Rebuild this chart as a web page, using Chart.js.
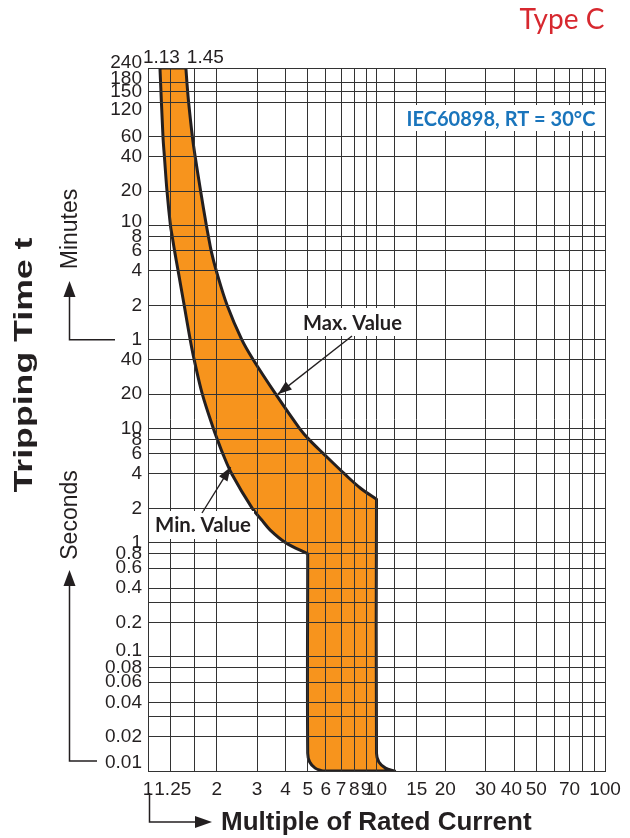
<!DOCTYPE html>
<html>
<head>
<meta charset="utf-8">
<script src="https://cdn.jsdelivr.net/npm/chart.js@4/dist/chart.umd.min.js"></script>
<style>
  html, body { margin: 0; padding: 0; background: #ffffff; }
  #wrap { width: 630px; height: 838px; position: relative; }
</style>
</head>
<body>
<div id="wrap"><canvas id="c" width="630" height="838"></canvas></div>
<script>
// ---------- data ----------
// x: multiple of rated current, y: tripping time in seconds
const xTickValues = [1, 1.25, 1.6, 2, 3, 4, 5, 6, 7, 8, 9, 10, 12, 15, 20, 30, 40, 50, 60, 70, 80, 90, 100];
const xTickLabels = ['1', '1.25', '', '2', '3', '4', '5', '6', '7', '8', '9', '10', '', '15', '20', '30', '40', '50', '', '70', '', '', '100'];

const yTickValues = [0.01, 0.02, 0.03, 0.04, 0.06, 0.08, 0.1, 0.2, 0.3, 0.4, 0.6, 0.8, 1, 2, 4, 6, 8, 10, 20, 40,
                     60, 120, 240, 360, 480, 600, 1200, 2400, 3600, 7200, 9000, 10800, 14400];
const yTickLabels = ['0.01', '0.02', '', '0.04', '0.06', '0.08', '0.1', '0.2', '', '0.4', '0.6', '0.8', '1', '2', '4', '6', '8', '10', '20', '40',
                     '1', '2', '4', '6', '8', '10', '20', '40', '60', '120', '150', '180', '240'];

// Max. value curve (upper limit), from 240 min down through the instantaneous zone
const maxCurrent = [1.465, 1.48, 1.506, 1.564, 1.609, 1.70, 1.801, 1.839, 1.89, 1.991, 2.22, 2.573, 2.888, 3.622, 4.611, 5.073, 5.87, 7.249, 8.515, 10, 10, 10.24, 10.95, 12];
const maxTime    = [14400, 10800, 7200, 3600, 2400, 1200, 600, 480, 360, 240, 120, 60, 40, 20, 10, 8, 6, 4, 3, 2.4, 0.0143, 0.012, 0.0106, 0.01];

// Min. value curve (lower limit)
const minCurrent = [1.128, 1.163, 1.18, 1.211, 1.254, 1.277, 1.307, 1.355, 1.44, 1.53, 1.593, 1.729, 1.932, 2.012, 2.126, 2.327, 2.86, 3.147, 3.427, 4.006, 5, 5, 5.10, 5.39, 5.81];
const minTime    = [14400, 3600, 2400, 1200, 600, 480, 360, 240, 120, 60, 40, 20, 10, 8, 6, 4, 2, 1.58, 1.29, 1, 0.8, 0.0143, 0.012, 0.0106, 0.01];

// arrow targets on the curves
const maxArrowPoint = { x: 3.70, y: 20 };
const minArrowPoint = { x: 2.30, y: 4.6 };

// ---------- build band outline (closed shape) ----------
// curve end points and the knee where a vertical drop starts are kept sharp
function isSharp(xs, i) {
  if (i === 0 || i === xs.length - 1) return true;
  return xs[i] === xs[i + 1] && xs[i - 1] !== xs[i];
}
const band = [];
function addPt(x, y, sharp) { band.push({ x: x, y: y }); if (sharp) band.push({ x: x, y: y }); }
maxCurrent.forEach((x, i) => addPt(x, maxTime[i], isSharp(maxCurrent, i)));
for (let i = minCurrent.length - 1; i >= 0; i--) addPt(minCurrent[i], minTime[i], isSharp(minCurrent, i));
band.push({ x: maxCurrent[0], y: maxTime[0] });

// small label placement tweaks (style only)
const yLabelNudge = { 14400: -5, 10800: -3, 7200: 7, 600: -4, 0.1: -6, 0.01: -8 };
const xLabelPad = { 1.25: ' %', 40: '% ' };

const INK = '#231f20';
const SANS = "'Liberation Sans', Arial, Helvetica, sans-serif";
const CAL = 'Lato, "Open Sans", sans-serif';
Chart.defaults.font.family = SANS;

function fitFont(ctx, text, weight, family, width) {
  ctx.font = weight + ' 100px ' + family;
  const w = ctx.measureText(text).width;
  return weight + ' ' + (100 * width / w).toFixed(2) + 'px ' + family;
}
function arrowHead(ctx, tx, ty, fx, fy, len, half) {
  const a = Math.atan2(ty - fy, tx - fx);
  ctx.beginPath();
  ctx.moveTo(tx, ty);
  ctx.lineTo(tx - len * Math.cos(a) + half * Math.sin(a), ty - len * Math.sin(a) - half * Math.cos(a));
  ctx.lineTo(tx - len * Math.cos(a) - half * Math.sin(a), ty - len * Math.sin(a) + half * Math.cos(a));
  ctx.closePath();
  ctx.fill();
}

const annotations = {
  id: 'annotations',
  afterDraw(chart) {
    const ctx = chart.ctx;
    const xs = chart.scales.x, ys = chart.scales.y;
    ctx.save();
    ctx.fillStyle = INK;
    ctx.strokeStyle = INK;

    // "Type C"
    ctx.fillStyle = '#d7282f';
    ctx.font = fitFont(ctx, 'Type C', 'normal', CAL, 85);
    ctx.textAlign = 'left'; ctx.textBaseline = 'alphabetic';
    ctx.fillText('Type C', 519.5, 28.5);

    // top labels 1.13 / 1.45
    ctx.fillStyle = INK;
    ctx.font = '19px ' + SANS;
    ctx.textAlign = 'right';
    ctx.fillText('1.13', xs.getPixelForValue(1.45) - 5, 63);
    ctx.textAlign = 'left';
    ctx.fillText('1.45', xs.getPixelForValue(1.45) + 2, 63);

    // IEC label with white box
    ctx.fillStyle = '#ffffff';
    ctx.fillRect(405, 105, 192, 26);
    ctx.fillStyle = '#1a75bc';
    ctx.font = fitFont(ctx, 'IEC60898, RT = 30°C', 'bold', CAL, 189);
    ctx.textAlign = 'center'; ctx.textBaseline = 'middle';
    ctx.fillText('IEC60898, RT = 30°C', 501, 120);

    // Max. Value
    ctx.fillStyle = '#ffffff';
    ctx.fillRect(300, 308, 104, 28);
    ctx.fillStyle = INK;
    ctx.font = fitFont(ctx, 'Max. Value', 'bold', CAL, 99);
    ctx.fillText('Max. Value', 352.5, 323.5);
    let tx = xs.getPixelForValue(maxArrowPoint.x), ty = ys.getPixelForValue(maxArrowPoint.y);
    ctx.lineWidth = 1.4;
    ctx.beginPath(); ctx.moveTo(352, 336); ctx.lineTo(tx, ty); ctx.stroke();
    arrowHead(ctx, tx, ty, 352, 336, 14, 5);

    // Min. Value
    ctx.fillStyle = '#ffffff';
    ctx.fillRect(151, 511, 103, 28);
    ctx.fillStyle = INK;
    ctx.font = fitFont(ctx, 'Min. Value', 'bold', CAL, 96);
    ctx.fillText('Min. Value', 203, 525.5);
    tx = xs.getPixelForValue(minArrowPoint.x); ty = ys.getPixelForValue(minArrowPoint.y);
    ctx.beginPath(); ctx.moveTo(202, 513); ctx.lineTo(tx, ty); ctx.stroke();
    arrowHead(ctx, tx, ty, 202, 513, 14, 5);

    // Y axis title (rotated)
    ctx.save();
    ctx.translate(32, 365);
    ctx.rotate(-Math.PI / 2);
    ctx.font = 'bold 26px ' + SANS;
    const tw = ctx.measureText('Tripping Time t').width;
    ctx.scale(255 / tw, 1);
    ctx.textAlign = 'center'; ctx.textBaseline = 'alphabetic';
    ctx.fillText('Tripping Time t', 0, 0);
    ctx.restore();

    // Minutes / Seconds
    ctx.font = '23px ' + SANS;
    ctx.textAlign = 'center'; ctx.textBaseline = 'alphabetic';
    ctx.save(); ctx.translate(76.5, 229); ctx.rotate(-Math.PI / 2); ctx.fillText('Minutes', 0, 0); ctx.restore();
    ctx.save(); ctx.translate(77, 515); ctx.rotate(-Math.PI / 2); ctx.fillText('Seconds', 0, 0); ctx.restore();

    ctx.lineWidth = 1.5;
    // minutes bracket arrow
    const y1min = ys.getPixelForValue(60);
    ctx.beginPath();
    ctx.moveTo(115, y1min); ctx.lineTo(69.5, y1min); ctx.lineTo(69.5, 295);
    ctx.stroke();
    arrowHead(ctx, 69.5, 281, 69.5, 300, 16, 6);
    // seconds bracket arrow
    ctx.beginPath();
    ctx.moveTo(97, 761); ctx.lineTo(69.5, 761); ctx.lineTo(69.5, 584);
    ctx.stroke();
    arrowHead(ctx, 69.5, 570, 69.5, 590, 16, 6);

    // X axis title with arrow
    ctx.beginPath();
    ctx.moveTo(149.5, 793); ctx.lineTo(149.5, 822); ctx.lineTo(197, 822);
    ctx.stroke();
    arrowHead(ctx, 212, 822, 190, 822, 17, 6);
    ctx.font = 'bold 26px ' + SANS;
    ctx.textAlign = 'left'; ctx.textBaseline = 'alphabetic';
    ctx.fillText('Multiple of Rated Current', 221, 830);

    ctx.restore();
  }
};

new Chart(document.getElementById('c'), {
  type: 'scatter',
  data: {
    datasets: [{
      data: band,
      showLine: true,
      fill: 'shape',
      backgroundColor: '#f7941d',
      borderColor: INK,
      borderWidth: 3,
      borderJoinStyle: 'round',
      pointRadius: 0,
      tension: 0.35
    }]
  },
  options: {
    responsive: false,
    animation: false,
    events: [],
    layout: { padding: { top: 68, right: 25, left: 0, bottom: 0 } },
    plugins: { legend: { display: false }, tooltip: { enabled: false } },
    scales: {
      x: {
        type: 'logarithmic',
        min: 1, max: 100,
        afterBuildTicks: s => { s.ticks = xTickValues.map(v => ({ value: v })); },
        afterFit: s => { s.height = 67; },
        grid: { color: '#333333', lineWidth: 1, drawTicks: false, z: 1 },
        border: { display: true, color: '#333333', width: 1, z: 1 },
        ticks: {
          autoSkip: false, maxRotation: 0, minRotation: 0, padding: 7,
          color: INK, font: { size: 19 },
          callback: (v, i) => {
            const lab = xTickLabels[i];
            const pad = xLabelPad[xTickValues[i]];
            return pad ? pad.replace('%', lab) : lab;
          }
        }
      },
      y: {
        type: 'logarithmic',
        min: 0.01, max: 14400,
        afterBuildTicks: s => { s.ticks = yTickValues.map(v => ({ value: v })); },
        afterFit: s => { s.width = 148; },
        grid: { color: '#333333', lineWidth: 1, drawTicks: false, z: 1 },
        border: { display: true, color: '#333333', width: 1, z: 1 },
        ticks: {
          autoSkip: false, padding: 6,
          color: INK,
          font: (c) => {
            const n = c.tick ? yLabelNudge[c.tick.value] : undefined;
            return { size: 19, lineHeight: n ? (2 * Math.abs(n)) + 'px' : 1.2 };
          },
          callback: (v, i) => {
            const lab = yTickLabels[i];
            const n = yLabelNudge[yTickValues[i]];
            if (!n) return lab;
            return n < 0 ? [lab, ''] : ['', lab];
          }
        }
      }
    }
  },
  plugins: [annotations]
});
</script>
</body>
</html>
